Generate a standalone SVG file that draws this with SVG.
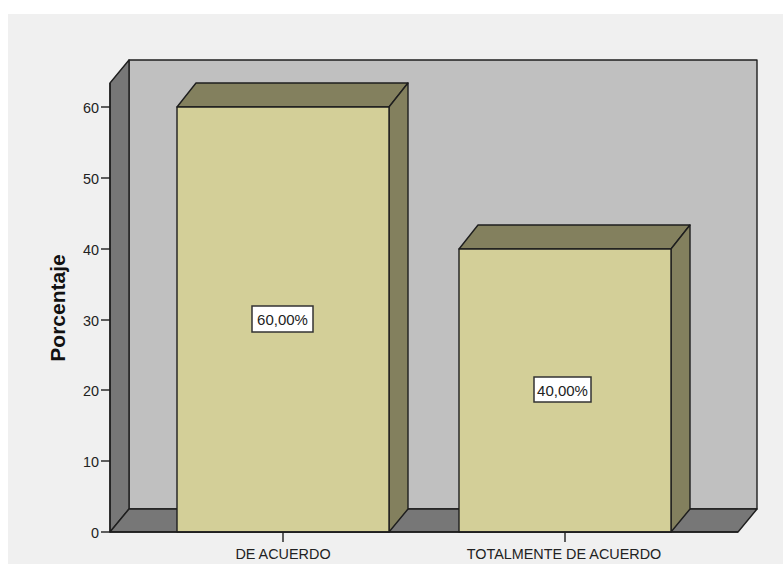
<svg xmlns="http://www.w3.org/2000/svg" width="783" height="564" viewBox="0 0 783 564">
<style>
.ln{stroke:#1e1e1e;stroke-width:1.4;stroke-linejoin:round}
.wall{fill:#c0c0c0}
.dk{fill:#777777}
.front{fill:#d3cf98}
.shade{fill:#83805e}
.t{font-family:"Liberation Sans",Arial,sans-serif;font-size:14.4px;fill:#222}
.v{font-family:"Liberation Sans",Arial,sans-serif;font-size:15px;fill:#222}
.lbl{fill:#fff;stroke:#333;stroke-width:1.5}
</style>
<rect width="783" height="564" fill="#ffffff"/>
<rect x="8" y="14" width="775" height="550" fill="#f0f0f0"/>
<g id="chart-frame">
<polygon class="wall ln" points="129,60 757,60 757,509 129,509"/>
<polygon class="dk ln" points="110,83 129,60 129,509 110,532"/>
<polygon class="dk ln" points="110,532 129,509 757,509 738,532"/>
</g>
<g id="bar-de-acuerdo">
<polygon class="shade ln" points="177,107 196,83 408,83 389,107"/>
<polygon class="shade ln" points="389,107 408,83 408,509 389,532"/>
<rect class="front ln" x="177" y="107" width="212" height="425"/>
<rect class="lbl" x="252" y="306" width="61" height="26"/>
<text class="v" x="282.5" y="325" text-anchor="middle">60,00%</text>
</g>
<g id="bar-totalmente">
<polygon class="shade ln" points="459,249 478,225 690,225 671,249"/>
<polygon class="shade ln" points="671,249 690,225 690,509 671,532"/>
<rect class="front ln" x="459" y="249" width="212" height="283"/>
<rect class="lbl" x="534" y="377" width="57" height="25"/>
<text class="v" x="562.5" y="396" text-anchor="middle">40,00%</text>
</g>
<g id="axes">
<line class="ln" x1="110" y1="83" x2="110" y2="532"/>
<line class="ln" x1="110" y1="532" x2="738" y2="532"/>
<g class="ln">
<line x1="101" y1="532" x2="110" y2="532"/>
<line x1="101" y1="461" x2="110" y2="461"/>
<line x1="101" y1="390" x2="110" y2="390"/>
<line x1="101" y1="320" x2="110" y2="320"/>
<line x1="101" y1="249" x2="110" y2="249"/>
<line x1="101" y1="178" x2="110" y2="178"/>
<line x1="101" y1="107" x2="110" y2="107"/>
<line x1="283" y1="532" x2="283" y2="542"/>
<line x1="565" y1="532" x2="565" y2="542"/>
</g>
<g class="t" text-anchor="end">
<text x="99" y="538">0</text>
<text x="99" y="467">10</text>
<text x="99" y="396">20</text>
<text x="99" y="326">30</text>
<text x="99" y="255">40</text>
<text x="99" y="184">50</text>
<text x="99" y="113">60</text>
</g>
<text class="t" x="283" y="559" text-anchor="middle">DE ACUERDO</text>
<text class="t" x="564" y="559" text-anchor="middle">TOTALMENTE DE ACUERDO</text>
<text x="65" y="308" transform="rotate(-90 65 308)" text-anchor="middle" style="font-family:'Liberation Sans',Arial,sans-serif;font-size:21px;font-weight:bold;fill:#111">Porcentaje</text>
</g>
</svg>
